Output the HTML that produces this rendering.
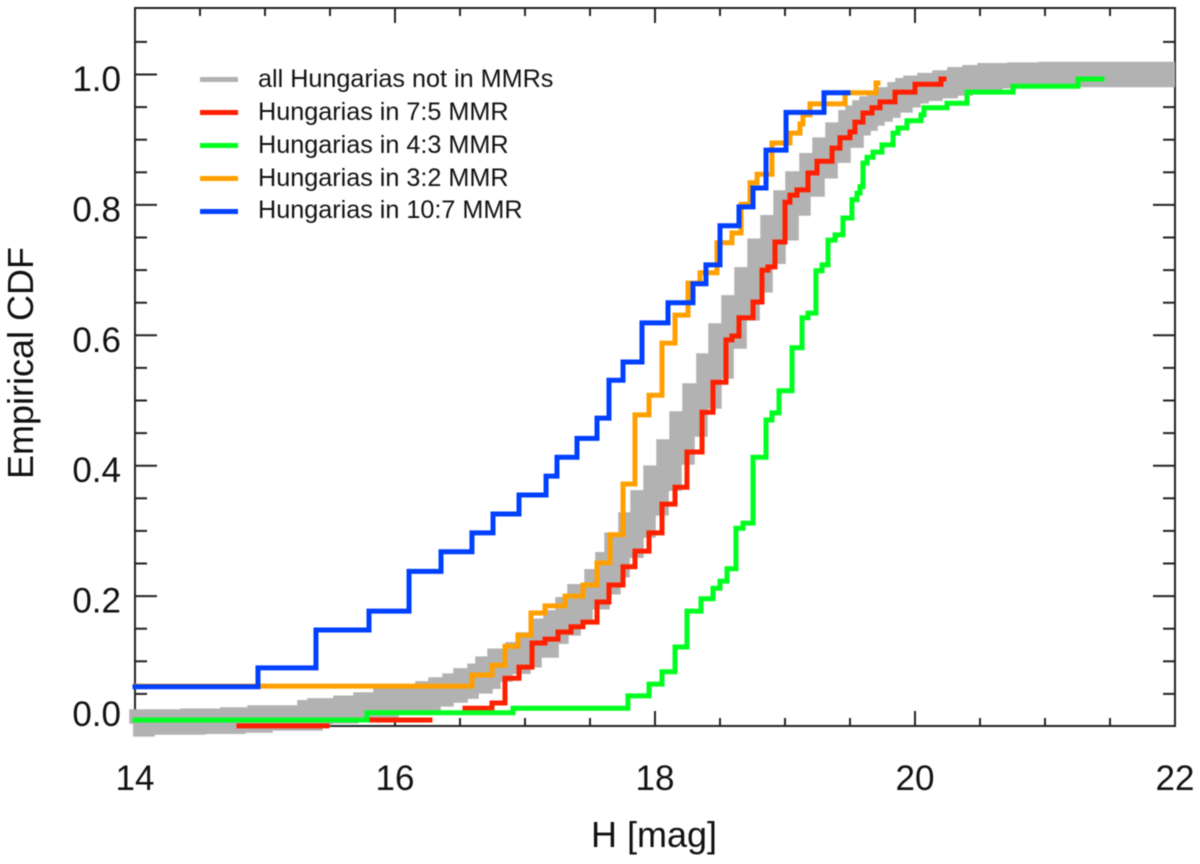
<!DOCTYPE html>
<html lang="en">
<head>
<meta charset="utf-8">
<title>Empirical CDF of Hungarias</title>
<style>
html,body{margin:0;padding:0;background:#fff;width:1200px;height:864px;overflow:hidden}
svg{display:block;filter:blur(.6px)}
text{font-family:"Liberation Sans",sans-serif;fill:#111}
</style>
</head>
<body>
<svg id="chart" xmlns="http://www.w3.org/2000/svg" width="1200" height="864" viewBox="0 0 1200 864">
  <rect x="0" y="0" width="1200" height="864" fill="#fff"/>
  <rect x="135" y="8" width="1040" height="718" fill="none" stroke="#222" stroke-width="2"/>
  <g id="ticks"></g>
  <g id="tick-labels"></g>
  <g id="series"></g>
  <text x="654" y="847" font-size="36" text-anchor="middle">H [mag]</text>
  <text transform="translate(33,363) rotate(-90)" font-size="36" text-anchor="middle">Empirical CDF</text>
  <g>
    <line x1="200" x2="238" y1="79.5" y2="79.5" stroke="#b2b2b2" stroke-width="5"/>
    <text x="258" y="87" font-size="25.2">all Hungarias not in MMRs</text>
    <line x1="200" x2="238" y1="112.5" y2="112.5" stroke="#ff2000" stroke-width="5"/>
    <text x="258" y="120" font-size="25.2">Hungarias in 7:5 MMR</text>
    <line x1="200" x2="238" y1="145.5" y2="145.5" stroke="#00ff20" stroke-width="5"/>
    <text x="258" y="153" font-size="25.2">Hungarias in 4:3 MMR</text>
    <line x1="200" x2="238" y1="178.5" y2="178.5" stroke="#ffa000" stroke-width="5"/>
    <text x="258" y="186" font-size="25.2">Hungarias in 3:2 MMR</text>
    <line x1="200" x2="238" y1="211.5" y2="211.5" stroke="#0040ff" stroke-width="5"/>
    <text x="258" y="218" font-size="25.2">Hungarias in 10:7 MMR</text>
  </g>
</svg>
<script>
/* Tick values and labels */
var xTickValues = [14,14.5,15,15.5,16,16.5,17,17.5,18,18.5,19,19.5,20,20.5,21,21.5,22];
var xMajorValues = [14,16,18,20,22];
var xTickLabels = ["14","16","18","20","22"];
var yTickValues = [0.05,0.1,0.15,0.2,0.25,0.3,0.35,0.4,0.45,0.5,0.55,0.6,0.65,0.7,0.75,0.8,0.85,0.9,0.95,1.0,1.05];
var yMajorValues = [0,0.2,0.4,0.6,0.8,1.0];
var yTickLabels = ["0.0","0.2","0.4","0.6","0.8","1.0"];

/* Step series: edges has one more entry than levels; level i spans edges i..i+1; null = not drawn */
var allEdges = [13.985,14.054,14.446,14.754,14.962,15.346,15.423,15.623,15.777,15.931,16.1,16.254,16.354,16.462,16.546,16.654,16.715,16.808,16.946,17.031,17.162,17.238,17.331,17.423,17.554,17.638,17.708,17.815,17.908,18.008,18.108,18.208,18.308,18.415,18.508,18.608,18.708,18.808,18.908,19.008,19.1,19.208,19.308,19.408,19.508,19.562,19.615,19.669,19.731,19.792,19.885,19.946,20.008,20.115,20.231,20.346,20.462,20.577,20.808,21.046,22];
var allLevels = [0.004,0.007,0.008,0.010,0.013,0.021,0.024,0.028,0.033,0.039,0.044,0.050,0.056,0.062,0.070,0.077,0.088,0.100,0.110,0.125,0.146,0.159,0.179,0.199,0.222,0.248,0.278,0.309,0.343,0.381,0.421,0.464,0.507,0.553,0.599,0.642,0.685,0.729,0.765,0.803,0.832,0.860,0.884,0.907,0.926,0.933,0.941,0.947,0.953,0.961,0.969,0.975,0.979,0.983,0.987,0.992,0.995,0.998,0.999,1.0];

var redEdges = [14.8,15.477,15.823,16.269,16.538,16.746,16.846,16.954,17.054,17.154,17.254,17.354,17.446,17.554,17.646,17.754,17.846,17.954,18.054,18.154,18.246,18.362,18.446,18.546,18.592,18.646,18.754,18.823,18.869,18.923,19,19.038,19.092,19.177,19.246,19.362,19.423,19.5,19.538,19.6,19.669,19.731,19.846,20,20.2,20.223];
var redLevels = [0.001,null,0.010,null,0.028,0.036,0.074,0.091,0.128,0.134,0.145,0.153,0.160,0.191,0.217,0.245,0.269,0.297,0.341,0.367,0.421,0.482,0.528,0.593,0.599,0.627,0.651,0.700,0.705,0.743,0.804,0.815,0.823,0.849,0.867,0.887,0.903,0.912,0.927,0.941,0.949,0.958,0.973,0.985,0.993];

var greenEdges = [14,15.785,16.908,17.792,17.954,18.054,18.154,18.246,18.354,18.446,18.5,18.554,18.623,18.677,18.754,18.854,18.9,18.954,19.054,19.131,19.177,19.238,19.285,19.331,19.385,19.446,19.515,19.554,19.577,19.6,19.631,19.677,19.746,19.831,19.869,19.938,20.046,20.069,20.246,20.4,20.754,21.254,21.438];
var greenLevels = [0.010,0.021,0.028,0.047,0.065,0.084,0.122,0.177,0.196,0.212,0.223,0.242,0.304,0.312,0.413,0.470,0.481,0.515,0.581,0.627,0.634,0.699,0.708,0.746,0.754,0.780,0.808,0.818,0.828,0.864,0.873,0.881,0.892,0.910,0.918,0.929,0.938,0.949,0.956,0.973,0.982,0.993];

var orangeEdges = [14,16.592,16.746,16.846,16.946,17.046,17.154,17.308,17.446,17.554,17.654,17.754,17.846,17.954,18.054,18.154,18.254,18.346,18.477,18.592,18.662,18.731,18.785,18.9,19.038,19.115,19.138,19.192,19.462,19.7,19.715];
var orangeLevels = [0.062,0.079,0.094,0.123,0.140,0.174,0.185,0.200,0.217,0.251,0.294,0.372,0.478,0.508,0.588,0.631,0.680,0.696,0.742,0.757,0.801,0.834,0.847,0.895,0.910,0.924,0.938,0.955,0.972,0.987];

var blueEdges = [14,14.946,15.392,15.8,16.108,16.354,16.592,16.754,16.954,17.162,17.246,17.4,17.554,17.646,17.754,17.9,18.1,18.292,18.392,18.5,18.646,18.754,18.854,19.008,19.3,19.485];
var blueLevels = [0.061,0.090,0.148,0.177,0.238,0.268,0.297,0.326,0.355,0.384,0.413,0.442,0.473,0.531,0.559,0.619,0.650,0.679,0.708,0.768,0.797,0.826,0.884,0.942,0.972];

var NS = "http://www.w3.org/2000/svg";
function xScale(h){ return 135 + (h - 14) * 130; }
function yScale(c){ return 726.5 - c * 652; }

function stepPath(edges, levels){
  var d = "", pen = false;
  for (var i = 0; i < levels.length; i++) {
    if (levels[i] === null) { pen = false; continue; }
    var y = yScale(levels[i]).toFixed(2);
    d += (pen ? "L" : "M") + xScale(edges[i]).toFixed(2) + " " + y;
    d += "L" + xScale(edges[i + 1]).toFixed(2) + " " + y;
    pen = true;
  }
  return d;
}

function contains(list, v){ return list.indexOf(v) !== -1; }

var tickGroup = document.getElementById("ticks");
function addTick(x1, y1, x2, y2){
  var t = document.createElementNS(NS, "line");
  t.setAttribute("x1", x1); t.setAttribute("y1", y1);
  t.setAttribute("x2", x2); t.setAttribute("y2", y2);
  t.setAttribute("stroke", "#222");
  t.setAttribute("stroke-width", "2");
  
  
  tickGroup.appendChild(t);
}
xTickValues.forEach(function(v){
  var len = contains(xMajorValues, v) ? 15 : 8;
  var x = xScale(v);
  addTick(x, 726, x, 726 - len);
  addTick(x, 8, x, 8 + len);
});
yTickValues.forEach(function(v){
  var major = contains(yMajorValues, v);
  var y = yScale(v);
  addTick(135, y, 135 + (major ? 22 : 12), y);
  addTick(1175, y, 1175 - (major ? 22 : 12), y);
});

var labelGroup = document.getElementById("tick-labels");
function addLabel(x, y, anchor, str, name){
  var t = document.createElementNS(NS, "text");
  t.setAttribute("x", x); t.setAttribute("y", y);
  t.setAttribute("text-anchor", anchor);
  t.setAttribute("font-size", "35");
  
  
  t.textContent = str;
  labelGroup.appendChild(t);
}
xMajorValues.forEach(function(v, i){
  addLabel(xScale(v), 790, "middle", xTickLabels[i], "x-tick-label");
});
yMajorValues.forEach(function(v, i){
  addLabel(121, Math.min(yScale(v) + 16.5, 726), "end", yTickLabels[i], "y-tick-label");
});

var seriesGroup = document.getElementById("series");
function addSeries(edges, levels, color, width, cap, name){
  var p = document.createElementNS(NS, "path");
  p.setAttribute("d", stepPath(edges, levels));
  p.setAttribute("fill", "none");
  p.setAttribute("stroke", color);
  p.setAttribute("stroke-width", width);
  p.setAttribute("stroke-linejoin", "miter");
  p.setAttribute("stroke-miterlimit", "10");
  p.setAttribute("stroke-linecap", cap);
  
  
  seriesGroup.appendChild(p);
}
addSeries(allEdges, allLevels, "#b2b2b2", 25.5, "butt", "series-all-hungarias");
addSeries(redEdges, redLevels, "#ff2000", 5, "square", "series-7-5-mmr");
addSeries(greenEdges, greenLevels, "#00ff20", 5, "square", "series-4-3-mmr");
addSeries(orangeEdges, orangeLevels, "#ffa000", 5, "square", "series-3-2-mmr");
addSeries(blueEdges, blueLevels, "#0040ff", 5, "square", "series-10-7-mmr");
</script>
</body>
</html>
